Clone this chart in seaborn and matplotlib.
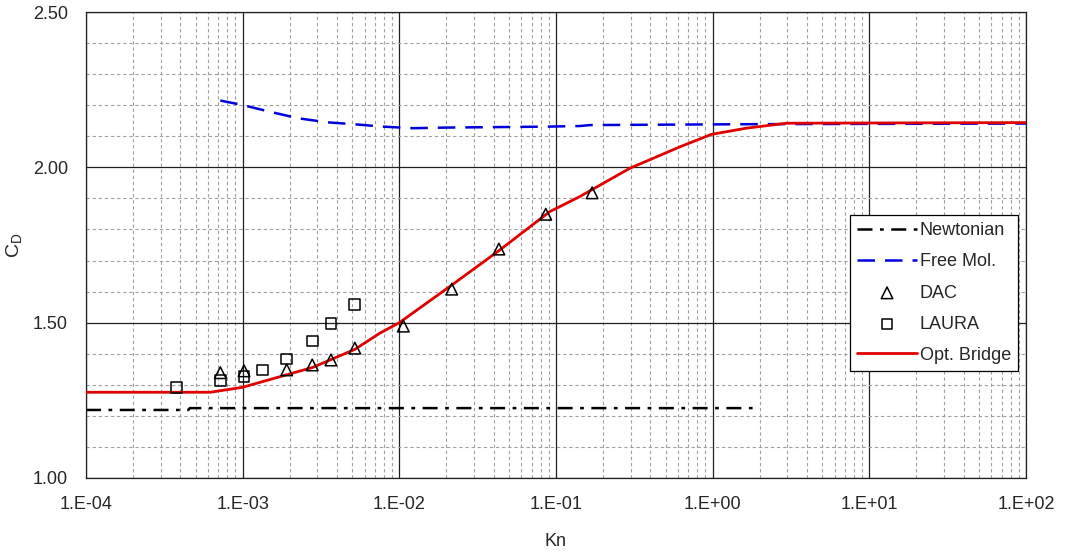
import numpy as np
import pandas as pd
import seaborn as sns
import matplotlib.pyplot as plt
from matplotlib.ticker import FixedLocator, FuncFormatter, MultipleLocator, FormatStrFormatter, NullFormatter

# Newtonian limit
kn_newt = [1e-4, 4.5e-4, 4.6e-4, 2.0]
cd_newt = [1.219, 1.219, 1.225, 1.225]

# Free molecular limit
kn_fm = [7.2e-4, 9.9e-4, 1.49e-3, 2.26e-3, 3.44e-3, 5.06e-3, 7.86e-3, 1.22e-2,
         2.0e-2, 8.7e-2, 0.142, 0.165, 1.9, 100]
cd_fm = [2.215, 2.201, 2.179, 2.158, 2.145, 2.139, 2.131, 2.126,
         2.128, 2.131, 2.133, 2.136, 2.139, 2.141]

# DAC results
kn_dac = [7.2e-4, 1.02e-3, 1.91e-3, 2.78e-3, 3.66e-3, 5.2e-3, 1.06e-2, 2.16e-2,
          4.32e-2, 8.6e-2, 0.170]
cd_dac = [1.339, 1.345, 1.348, 1.364, 1.380, 1.418, 1.489, 1.608,
          1.737, 1.849, 1.918]

# LAURA results
kn_laura = [3.8e-4, 7.2e-4, 1.02e-3, 1.34e-3, 1.91e-3, 2.78e-3, 3.66e-3, 5.2e-3]
cd_laura = [1.292, 1.313, 1.326, 1.348, 1.383, 1.441, 1.498, 1.558]

# Optimized bridging function
kn_br = [1e-4, 6.2e-4, 1e-3, 1.9e-3, 2.8e-3, 5.2e-3, 7.5e-3, 1.0e-2, 2.16e-2,
         4.3e-2, 9.1e-2, 0.142, 0.296, 0.618, 0.98, 1.64, 2.96, 100]
cd_br = [1.276, 1.276, 1.292, 1.332, 1.356, 1.414, 1.466, 1.50, 1.621,
         1.731, 1.857, 1.906, 1.997, 2.066, 2.106, 2.126, 2.142, 2.144]

decades = [-4, -3, -2, -1, 0, 1, 2]

sns.set_style("white")
plt.rcParams['font.family'] = ['Liberation Sans', 'DejaVu Sans']
plt.rcParams['font.size'] = 13

fig = plt.figure(figsize=(10.65, 5.52), dpi=100)
ax = fig.add_axes([86/1065, 1-478/552, 940/1065, 466/552])

sns.lineplot(x=kn_newt, y=cd_newt, ax=ax, color="black", lw=1.8,
             linestyle=(0, (6, 3, 1.5, 3)), label="Newtonian", estimator=None, sort=False)
sns.lineplot(x=kn_fm, y=cd_fm, ax=ax, color="#0000dd", lw=1.8,
             linestyle=(0, (7, 4)), label="Free Mol.", estimator=None, sort=False)
sns.scatterplot(x=kn_dac, y=cd_dac, ax=ax, marker="^", s=70, facecolors="none",
                edgecolors="black", linewidth=1.1, label="DAC", zorder=4)
sns.scatterplot(x=kn_laura, y=cd_laura, ax=ax, marker="s", s=60, facecolors="none",
                edgecolors="black", linewidth=1.1, label="LAURA", zorder=4)
sns.lineplot(x=kn_br, y=cd_br, ax=ax, color="#e00000", lw=2.0,
             label="Opt. Bridge", estimator=None, sort=False, zorder=3)

ax.set_xscale("log")
ax.set_xlim(1e-4, 1e2)
ax.set_ylim(1.0, 2.5)
major_x = [10.0 ** d for d in decades]
minor_x = [m * 10.0 ** d for d in decades[:-1] for m in range(2, 10)]
ax.xaxis.set_major_locator(FixedLocator(major_x))
ax.xaxis.set_minor_locator(FixedLocator(minor_x))
ax.xaxis.set_major_formatter(FuncFormatter(lambda v, p: "1.E%+03d" % int(round(np.log10(v)))))
ax.xaxis.set_minor_formatter(NullFormatter())
ax.yaxis.set_major_locator(MultipleLocator(0.5))
ax.yaxis.set_minor_locator(MultipleLocator(0.1))
ax.yaxis.set_major_formatter(FormatStrFormatter("%.2f"))

ax.grid(which="major", color="#202020", lw=0.9, ls="-")
ax.grid(which="minor", color="#a0a0a0", lw=0.8, ls=(0, (3, 2.5)))
ax.set_axisbelow(True)

ax.tick_params(which="major", direction="out", length=5, width=0.9, color="black", labelsize=13, pad=8)
ax.tick_params(which="minor", direction="in", length=3, width=0.6, color="black")
for s in ax.spines.values():
    s.set_color("#202020")
    s.set_linewidth(0.9)

ax.set_xlabel("Kn", fontsize=13, labelpad=14)
ax.set_ylabel(r"$\mathregular{C_D}$", fontsize=14, labelpad=6)

leg = ax.legend(loc="upper right", bbox_to_anchor=(0.9915, 0.564), borderaxespad=0,
                fontsize=13, frameon=True, fancybox=False, edgecolor="black",
                framealpha=1, handlelength=3.3, handletextpad=0.15,
                labelspacing=0.78, borderpad=0.4)
leg.get_frame().set_linewidth(0.9)

fig.savefig("out.png", dpi=100)
